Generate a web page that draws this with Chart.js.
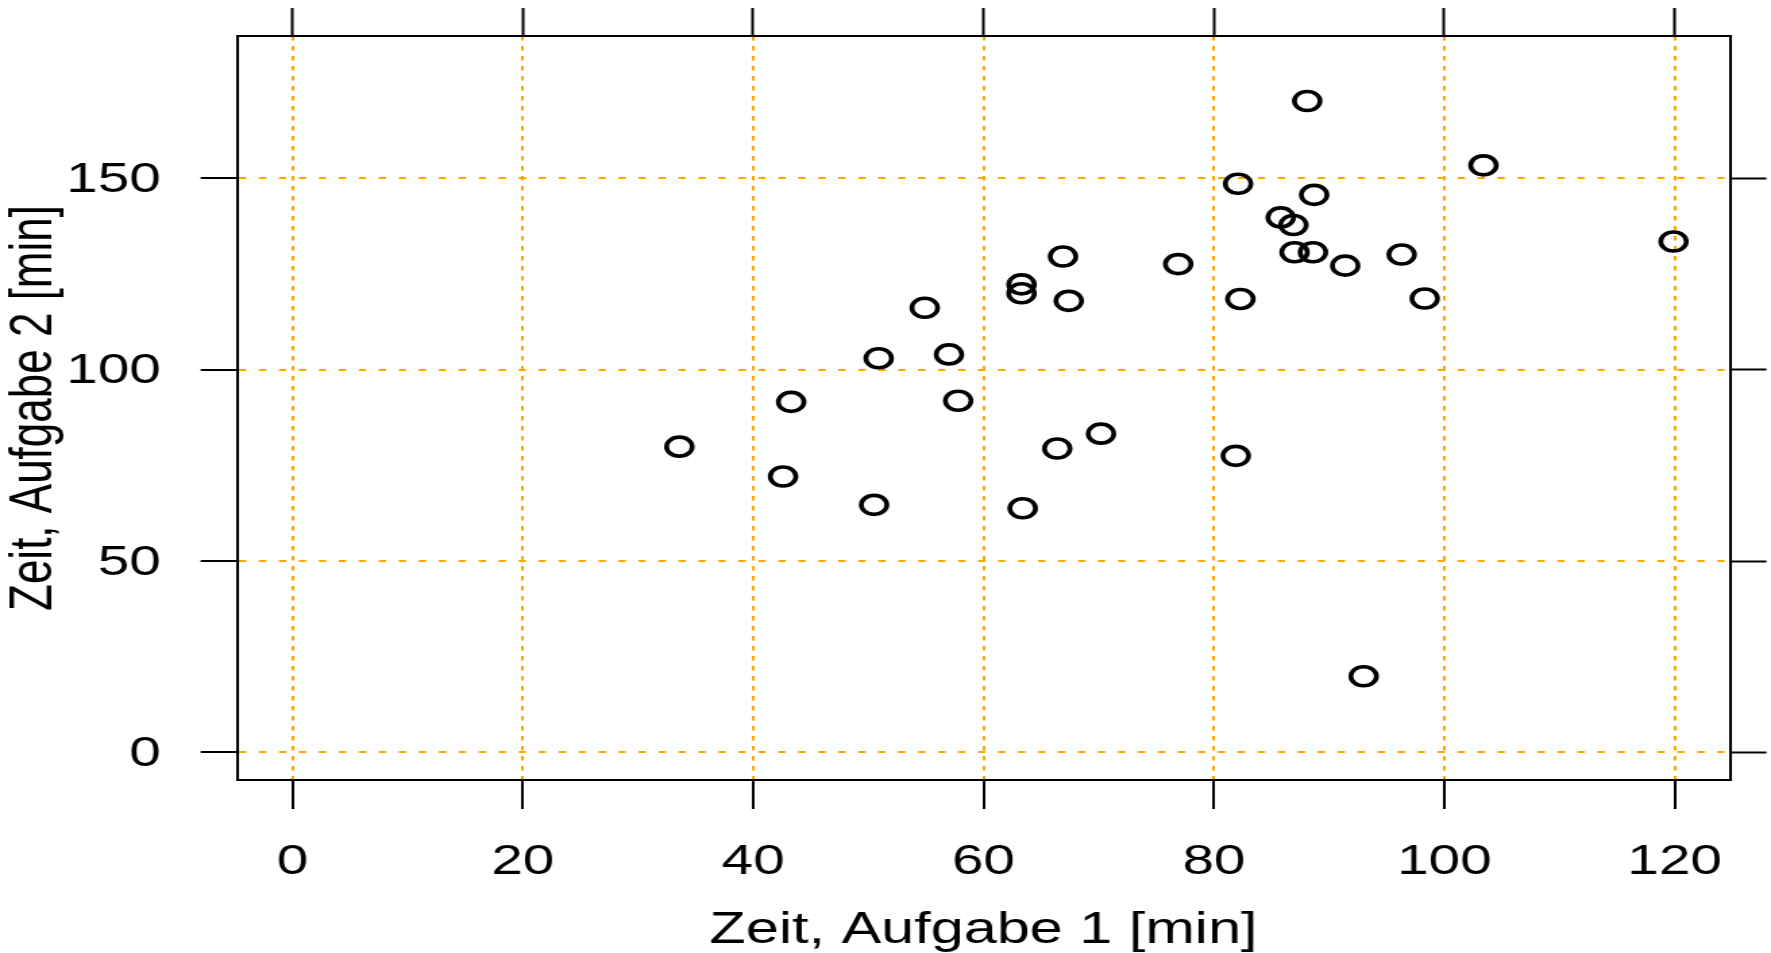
<!DOCTYPE html>
<html>
<head>
<meta charset="utf-8">
<title>Zeit Aufgabe 1 vs Aufgabe 2</title>
<script src="https://cdn.jsdelivr.net/npm/chart.js@4"></script>
<style>
    html, body { margin: 0; padding: 0; background: #fff; overflow: hidden; }
    /* the source plot is stretched horizontally, so draw narrower and scale */
    #wrap {
        position: absolute; left: 0; top: 0;
        width: 1312px; height: 953px;
        transform: scaleX(1.34985);
        transform-origin: 0 0;
    }
</style>
</head>
<body>
<div id="wrap"><canvas id="chart_scatter"></canvas></div>
<script>
// Zeit, Aufgabe 1 [min] (x) and Zeit, Aufgabe 2 [min] (y), one entry per person
var aufgabe1 = [88.1, 103.4, 82.1, 88.7, 85.8, 86.9, 87.0, 88.6, 91.4, 96.3, 119.9,
    98.3, 82.3, 76.9, 66.9, 63.3, 63.3, 67.4, 54.9, 50.9, 57.0, 57.8, 43.3,
    33.6, 42.6, 50.5, 63.4, 66.4, 70.2, 81.9, 93.0];
var aufgabe2 = [170.2, 153.4, 148.6, 145.7, 139.8, 137.8, 130.7, 130.7, 127.2, 130.1, 133.5,
    118.6, 118.5, 127.6, 129.6, 122.3, 120.0, 118.0, 116.2, 103.0, 104.0, 91.9, 91.6,
    79.9, 72.1, 64.7, 63.8, 79.4, 83.3, 77.5, 19.9];

var xTicks = [0, 20, 40, 60, 80, 100, 120];
var yTicks = [0, 50, 100, 150];
var xLimits = [-4.8, 124.8];
var yLimits = [-7.2, 187.2];

(function () {
    function boot() {
        var el = document.getElementById('chart_scatter');
        if (!el || typeof Chart === 'undefined') {
            return;
        }
        Chart.defaults.font.family = "'Liberation Sans', Arial, sans-serif";
        Chart.defaults.color = '#000';

        var points = aufgabe1.map(function (v, i) {
            return { x: v, y: aufgabe2[i] };
        });

        function fixTicks(list) {
            return function (scale) {
                scale.ticks = list.map(function (v) { return { value: v }; });
            };
        }

        // fixed axis size, and no extra room for overflowing labels
        function fitTo(prop, size) {
            return function (s) {
                s[prop] = size;
                s.paddingTop = 0;
                s.paddingBottom = 0;
                s.paddingLeft = 0;
                s.paddingRight = 0;
            };
        }

        var orange = '#ffa500';
        var border = { display: true, color: '#000', width: 2 };

        new Chart(el, {
            type: 'scatter',
            data: {
                datasets: [
                    {
                        data: points,
                        pointStyle: 'circle',
                        pointRadius: 9.5,
                        borderWidth: 3.6,
                        borderColor: '#000',
                        backgroundColor: 'rgba(0,0,0,0)',
                    },
                ],
            },
            options: {
                responsive: true,
                maintainAspectRatio: false,
                animation: false,
                events: [],
                layout: { padding: 0 },
                plugins: { legend: { display: false }, tooltip: { enabled: false } },
                scales: {
                    x: {
                        type: 'linear',
                        position: 'bottom',
                        min: xLimits[0],
                        max: xLimits[1],
                        afterBuildTicks: fixTicks(xTicks),
                        afterFit: fitTo('height', 173),
                        grid: {
                            color: orange,
                            lineWidth: 2,
                            tickLength: 29,
                            tickColor: '#000',
                            tickWidth: 2,
                            tickBorderDash: [],
                        },
                        border: Object.assign({ dash: [4.5, 5.5] }, border),
                        ticks: { font: { size: 42 }, padding: 28, maxRotation: 0 },
                        title: {
                            display: true,
                            text: 'Zeit, Aufgabe 1 [min]',
                            font: { size: 44, lineHeight: 1 },
                            padding: { top: 0, bottom: 0 },
                        },
                    },
                    x2: {
                        type: 'linear',
                        axis: 'x',
                        position: 'top',
                        min: xLimits[0],
                        max: xLimits[1],
                        afterBuildTicks: fixTicks(xTicks),
                        afterFit: fitTo('height', 36),
                        grid: {
                            drawOnChartArea: false,
                            tickLength: 28,
                            tickColor: '#000',
                            tickWidth: 2,
                            tickBorderDash: [],
                        },
                        border: border,
                        ticks: { display: false },
                    },
                    y: {
                        type: 'linear',
                        position: 'left',
                        min: yLimits[0],
                        max: yLimits[1],
                        afterBuildTicks: fixTicks(yTicks),
                        afterFit: fitTo('width', 175.6),
                        grid: {
                            color: orange,
                            lineWidth: 2,
                            tickLength: 27,
                            tickColor: '#000',
                            tickWidth: 2,
                            tickBorderDash: [],
                        },
                        border: Object.assign({ dash: [5.4, 9.4] }, border),
                        ticks: { font: { size: 42 }, padding: 29.5, labelOffset: 2 },
                        title: {
                            display: true,
                            text: 'Zeit, Aufgabe 2 [min]',
                            font: { size: 44, lineHeight: 1 },
                            padding: { top: 3.5, bottom: 0 },
                        },
                    },
                    y2: {
                        type: 'linear',
                        axis: 'y',
                        position: 'right',
                        min: yLimits[0],
                        max: yLimits[1],
                        afterBuildTicks: fixTicks(yTicks),
                        afterFit: fitTo('width', 30.4),
                        grid: {
                            drawOnChartArea: false,
                            tickLength: 27,
                            tickColor: '#000',
                            tickWidth: 2,
                            tickBorderDash: [],
                        },
                        border: border,
                        ticks: { display: false },
                    },
                },
            },
        });
    }

    if (document.readyState === 'loading') {
        document.addEventListener('DOMContentLoaded', boot);
    } else {
        boot();
    }
})();
</script>
</body>
</html>
